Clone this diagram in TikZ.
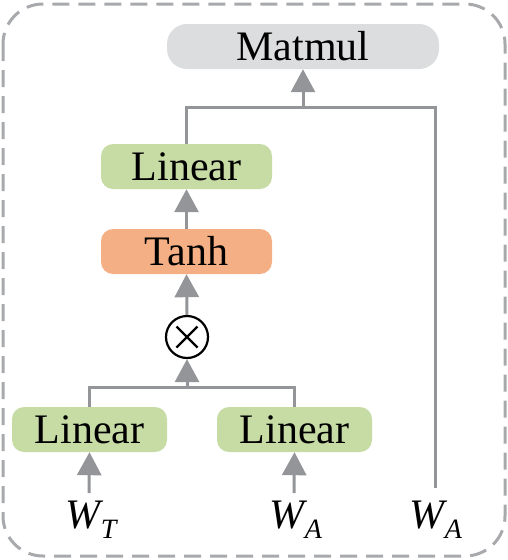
\documentclass[tikz,border=0pt]{standalone}
\usepackage{fontspec}
\setmainfont{Liberation Serif}
\usetikzlibrary{arrows.meta,calc}
\definecolor{boxgreen}{HTML}{C7DBA4}
\definecolor{boxorange}{HTML}{F4B084}
\definecolor{boxgray}{HTML}{DCDDDE}
\definecolor{linegray}{HTML}{939598}
\definecolor{dashgray}{HTML}{A7A9AC}
\tikzset{
  blk/.style={rounded corners=12pt, minimum height=45pt, inner sep=0pt, text=black,
    font=\fontsize{42}{48}\selectfont},
  grn/.style={blk, fill=boxgreen, minimum width=171pt},
  grnb/.style={blk, fill=boxgreen, minimum width=155pt},
  conn/.style={draw=linegray, line width=3pt},
  arr/.style={conn, -{Triangle[width=24pt,length=23pt]}},
  lbl/.style={inner sep=0pt, font=\fontsize{42}{48}\selectfont},
}
\newcommand{\wsub}[1]{\textit{W}\kern-3pt\raisebox{-10pt}{\fontsize{28}{30}\selectfont\textit{#1}}}
\begin{document}
\begin{tikzpicture}[x=1pt,y=-1pt]
\useasboundingbox (0,0) rectangle (508,560);
\draw[dashgray, line width=3pt, dash pattern=on 17pt off 9pt, rounded corners=40pt] (3,4) rectangle (505,556);
\node[blk, fill=boxgray, minimum width=272pt, rounded corners=20pt] (mm) at (303,46.5) {Matmul};
\node[grn] (lin3) at (186.5,166.5) {Linear};
\node[blk, fill=boxorange, minimum width=171pt] (tanh) at (186.5,251.5) {Tanh};
\node[circle, draw=black, line width=2.2pt, minimum size=42pt, inner sep=0pt] (mul) at (187,337) {};
\draw[line width=2.2pt] ($(mul.center)+(-10.5,-10.5)$) -- ($(mul.center)+(10.5,10.5)$);
\draw[line width=2.2pt] ($(mul.center)+(-10.5,10.5)$) -- ($(mul.center)+(10.5,-10.5)$);
\node[grnb] (lin1) at (89.5,429.5) {Linear};
\node[grnb] (lin2) at (294.5,429.5) {Linear};
\node[lbl, anchor=base] (wt) at (92,528) {\wsub{T}};
\node[lbl, anchor=base] (wa1) at (296,528) {\wsub{A}};
\node[lbl, anchor=base] (wa2) at (436,528) {\wsub{A}};
\coordinate (j1) at (187,387);
\coordinate (j2) at (303,107);
\coordinate (wtop) at (435,488);
\coordinate (wtt) at (89,493);
\coordinate (wa1t) at (294,493);
\draw[conn] (lin1.north) -- (89.5,387) -- (294.5,387) -- (lin2.north);
\draw[arr] (j1) -- (mul.south);
\draw[arr] (mul.north) -- (tanh.south);
\draw[arr] (tanh.north) -- (lin3.south);
\draw[conn] (lin3.north) -- (186.5,107) -- (435,107) -- (wtop);
\draw[arr] (j2) -- (mm.south);
\draw[arr] (wtt) -- (lin1.south);
\draw[arr] (wa1t) -- (lin2.south);
\end{tikzpicture}
\end{document}
